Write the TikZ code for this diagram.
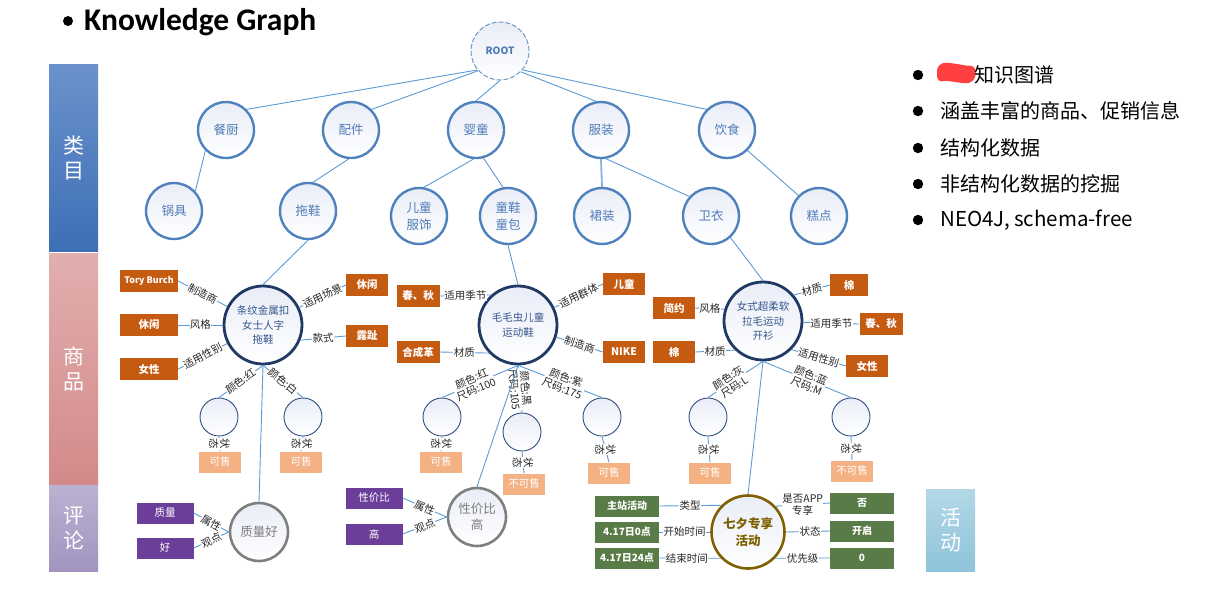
\documentclass[tikz,border=0pt]{standalone}
\usepackage{fontspec}
\setmainfont{Noto Sans CJK SC}
\newfontfamily\titlefont{Carlito}
\definecolor{edgec}{HTML}{5B9BD5}
\definecolor{catb}{HTML}{4F81BD}
\definecolor{catt}{HTML}{4F7CB8}
\definecolor{cattop}{HTML}{E9EDF7}
\definecolor{prodb}{HTML}{1F3864}
\definecolor{prodt}{HTML}{34558B}
\definecolor{skub}{HTML}{2F4F80}
\definecolor{attrc}{HTML}{C55A11}
\definecolor{statc}{HTML}{F4B183}
\definecolor{revc}{HTML}{6B3E99}
\definecolor{revb}{HTML}{7F7F7F}
\definecolor{actc}{HTML}{587B47}
\definecolor{actb}{HTML}{7F6000}
\definecolor{rootb}{HTML}{6F97C8}
\definecolor{bluetop}{HTML}{6B92CC}
\definecolor{bluebot}{HTML}{3D6FB6}
\definecolor{pinktop}{HTML}{E1AFAE}
\definecolor{pinkbot}{HTML}{D4898A}
\definecolor{purptop}{HTML}{BAB2D1}
\definecolor{purpbot}{HTML}{A194BF}
\definecolor{cyantop}{HTML}{B2D8E6}
\definecolor{cyanbot}{HTML}{8FC4DA}
\definecolor{redmark}{HTML}{FF4040}
\begin{document}
\begin{tikzpicture}[x=1pt,y=-1pt,
  edge/.style={draw=edgec, line width=0.9pt},
  cat/.style={circle, draw=catb, line width=2.4pt, top color=cattop, bottom color=white, minimum size=56pt, inner sep=0pt, align=center, text=catt, font=\fontsize{12.5}{16.5}\selectfont},
  prod/.style={circle, draw=prodb, line width=2.8pt, top color=cattop, bottom color=white, minimum size=78pt, inner sep=0pt, align=center, text=prodt, font=\fontsize{10.5}{14.5}\selectfont},
  sku/.style={circle, draw=skub, line width=0.9pt, top color=cattop, bottom color=white, minimum size=38pt, inner sep=0pt},
  attr/.style={rectangle, fill=attrc, text=white, font=\bfseries\fontsize{10.5}{12}\selectfont, minimum height=22pt, inner sep=0pt},
  stat/.style={rectangle, fill=statc, text=white, font=\fontsize{10.5}{12}\selectfont, minimum width=42pt, minimum height=21pt, inner sep=0pt},
  rbox/.style={rectangle, fill=revc, text=white, font=\fontsize{10.5}{12}\selectfont, minimum width=57pt, minimum height=21pt, inner sep=0pt},
  abox/.style={rectangle, fill=actc, text=white, font=\bfseries\fontsize{10}{12}\selectfont, minimum width=64pt, minimum height=21pt, inner sep=0pt},
  revcirc/.style={circle, draw=revb, line width=2.6pt, top color=cattop, bottom color=white, minimum size=58pt, inner sep=0pt, align=center, text=revb, font=\fontsize{12.5}{16}\selectfont},
  actcirc/.style={circle, draw=actb, line width=2.6pt, top color=cattop, bottom color=white, minimum size=73pt, inner sep=0pt, align=center, text=actb, font=\bfseries\fontsize{12.5}{16.5}\selectfont},
  lbl/.style={fill=white, inner sep=0.4pt, text=black!85, align=center, font=\fontsize{10.5}{11.5}\selectfont},
  band/.style={rectangle, text=white, align=center, inner sep=0pt, minimum width=49pt, font=\fontsize{21}{25}\selectfont}
]
\useasboundingbox (0,0) rectangle (1213,595);

% title
\fill (68,21) circle (5);
\node[anchor=base west, inner sep=0pt, font=\titlefont\bfseries\fontsize{31.5}{33}\selectfont] (title) at (84,30) {Knowledge Graph};

% bands
\node[band, top color=bluetop, bottom color=bluebot, minimum height=187pt] (bandA) at (73.5,157.5) {类\\目};
\node[band, top color=pinktop, bottom color=pinkbot, minimum height=232pt] (bandB) at (73.5,369) {商\\品};
\node[band, top color=purptop, bottom color=purpbot, minimum height=86pt] (bandC) at (73.5,528) {评\\论};
\node[band, top color=cyantop, bottom color=cyanbot, minimum height=82pt] (bandD) at (950.5,530) {活\\动};

% bullet list
\fill (918,75) circle (5.2);
\fill (918,111) circle (5.2);
\fill (918,148) circle (5.2);
\fill (918,184) circle (5.2);
\fill (918,220) circle (5.2);
\fill[redmark, rounded corners=7pt] (937,64) .. controls (950,62) and (965,66) .. (976,65) -- (975,82) .. controls (962,84) and (948,80) .. (937,83) -- cycle;
\node[anchor=west, inner sep=0pt, font=\fontsize{20}{24}\selectfont] (li1) at (974,75) {知识图谱};
\node[anchor=west, inner sep=0pt, font=\fontsize{20}{24}\selectfont] (li2) at (940,111) {涵盖丰富的商品、促销信息};
\node[anchor=west, inner sep=0pt, font=\fontsize{20}{24}\selectfont] (li3) at (940,148) {结构化数据};
\node[anchor=west, inner sep=0pt, font=\fontsize{20}{24}\selectfont] (li4) at (940,184) {非结构化数据的挖掘};
\node[anchor=west, inner sep=0pt, font=\fontsize{20.5}{24}\selectfont] (li5) at (940,220) {NEO4J, schema-free};

% root and categories
\node[circle, draw=rootb, dash pattern=on 5pt off 2pt, line width=1pt, top color=cattop, bottom color=white, minimum size=58pt, inner sep=0pt, text=catt, font=\bfseries\fontsize{10}{11}\selectfont] (root) at (500,51) {ROOT};
\node[cat] (cc) at (226,130) {餐厨};
\node[cat] (pj) at (351,130) {配件};
\node[cat] (yt) at (476,130) {婴童};
\node[cat] (fz) at (601,130) {服装};
\node[cat] (ys) at (727,130) {饮食};
\node[cat] (gj) at (174,211) {锅具};
\node[cat] (tx) at (308,211) {拖鞋};
\node[cat] (etfs) at (419,216) {儿童\\服饰};
\node[cat] (txtb) at (508,216) {童鞋\\童包};
\node[cat] (qz) at (602,216) {裙装};
\node[cat] (wy) at (711,216) {卫衣};
\node[cat] (gd) at (819,216) {糕点};

\draw[edge] (root.220) -- (cc.45);
\draw[edge] (root.222) -- (pj.45);
\draw[edge] (root.south) -- (yt.north);
\draw[edge] (root.-45) -- (fz.100);
\draw[edge] (root.-40) -- (ys.135);
\draw[edge] (cc.225) -- (gj.43);
\draw[edge] (pj.265) -- (tx.80);
\draw[edge] (yt.265) -- (etfs.80);
\draw[edge] (yt.285) -- (txtb.100);
\draw[edge, line width=1.8pt, draw=edgec!75] (fz.south) -- (qz.north);
\draw[edge] (fz.280) -- (wy.138);
\draw[edge] (ys.-45) -- (gd.135);

% products
\node[prod] (p1) at (263,325) {条纹金属扣\\女士人字\\拖鞋};
\node[prod] (p2) at (518,325) {毛毛虫儿童\\运动鞋};
\node[prod] (p3) at (763,321) {女式超柔软\\拉毛运动\\开衫};
\draw[edge] (tx.south) -- (p1.north);
\draw[edge] (txtb.south) -- (p2.north);
\draw[edge] (wy.-48) -- (p3.north);

% product 1 attributes
\node[attr, minimum width=58pt, font=\bfseries\fontsize{9}{11}\selectfont] (tb) at (149,281) {Tory Burch};
\node[attr, minimum width=58pt] (xx1) at (149,325) {休闲};
\node[attr, minimum width=58pt] (nx1) at (149,369) {女性};
\node[attr, minimum width=42pt] (xx2) at (367,285) {休闲};
\node[attr, minimum width=42pt] (lz) at (367,336) {露趾};
\draw[edge] (tb.east) -- node[lbl, sloped] {制造商} (p1);
\draw[edge] (xx1.east) -- node[lbl] {风格} (p1.west);
\draw[edge] (nx1.east) -- node[lbl, sloped] {适用性别} (p1);
\draw[edge] (p1) -- node[lbl, sloped] {适用场景} (xx2.west);
\draw[edge] (p1.-22) -- node[lbl, sloped] {款式} (lz.west);

% product 2 attributes
\node[attr, minimum width=43pt] (cq2) at (418,296) {春、秋};
\node[attr, minimum width=43pt] (hcg) at (418,352) {合成革};
\node[attr, minimum width=42pt] (et) at (624,284) {儿童};
\node[attr, minimum width=42pt] (nike) at (624,352) {NIKE};
\draw[edge] (cq2.east) -- node[lbl] {适用季节} (p2.132);
\draw[edge] (hcg.east) -- node[lbl] {材质} (p2.224);
\draw[edge] (p2) -- node[lbl, sloped] {适用群体} (et.west);
\draw[edge] (p2) -- node[lbl, sloped] {制造商} (nike.west);

% product 3 attributes
\node[attr, minimum width=42pt] (jy) at (674,308) {简约};
\node[attr, minimum width=42pt] (m1) at (674,352) {棉};
\node[attr, minimum width=38pt] (m2) at (849,285) {棉};
\node[attr, minimum width=43pt] (cq3) at (881,324) {春、秋};
\node[attr, minimum width=42pt] (nx3) at (867,366) {女性};
\draw[edge] (jy.east) -- node[lbl] {风格} (p3.163);
\draw[edge] (m1.east) -- node[lbl] {材质} (p3.226);
\draw[edge] (p3.40) -- node[lbl, sloped] {材质} (m2.west);
\draw[edge] (p3) -- node[lbl] {适用季节} (cq3.west);
\draw[edge] (p3.-45) -- node[lbl, sloped] {适用性别} (nx3.west);

% SKUs
\node[sku] (s11) at (219,417) {};
\node[sku] (s12) at (303,417) {};
\node[sku] (s21) at (442,417) {};
\node[sku] (s22) at (522,432) {};
\node[sku] (s23) at (602,417) {};
\node[sku] (s31) at (708,417) {};
\node[sku] (s32) at (851,417) {};
\draw[edge] (p1.south) -- node[lbl, sloped] {颜色:红} (s11.north);
\draw[edge] (p1.south) -- node[lbl, sloped] {颜色:白} (s12.north);
\draw[edge] (p2.south) -- node[lbl, sloped, pos=0.5] {颜色:黑\\尺码:105} (s22.north);
\draw[edge] (p2.south) -- node[lbl, sloped, pos=0.58] {颜色:红\\尺码:100} (s21.north);
\draw[edge] (p2.south) -- node[lbl, sloped, pos=0.55] {颜色:紫\\尺码:175} (s23.north);
\draw[edge] (p3.south) -- node[lbl, sloped, pos=0.58] {颜色:灰\\尺码:L} (s31.north);
\draw[edge] (p3.south) -- node[lbl, sloped, pos=0.52] {颜色:蓝\\尺码:M} (s32.north);

% status
\node[stat] (t11) at (220,462) {可售};
\node[stat] (t12) at (301,462) {可售};
\node[stat] (t21) at (441,462) {可售};
\node[stat] (t22) at (524,484) {不可售};
\node[stat] (t23) at (609,473) {可售};
\node[stat] (t31) at (710,473) {可售};
\node[stat] (t32) at (852,471) {不可售};
\foreach \s/\t in {s11/t11, s12/t12, s21/t21, s22/t22, s23/t23, s31/t31, s32/t32}
  \draw[edge] (\s.south) -- node[lbl, rotate=-90, font=\fontsize{10.5}{11}\selectfont] {状\\态} (\t.north);

% reviews
\node[revcirc] (zlg) at (259,532) {质量好};
\node[rbox] (zl) at (165,513) {质量};
\node[rbox] (hao) at (165,548) {好};
\node[revcirc] (xjbg) at (477,517) {性价比\\高};
\node[rbox] (xjb) at (374,498) {性价比};
\node[rbox] (gao) at (374,534) {高};
\draw[edge] (p1.south) -- (zlg.north);
\draw[edge] (p2.south) -- (xjbg.north);
\draw[edge] (zl.east) -- node[lbl, sloped] {属性} (zlg.west);
\draw[edge] (hao.east) -- node[lbl, sloped] {观点} (zlg.west);
\draw[edge] (xjb.east) -- node[lbl, sloped] {属性} (xjbg.west);
\draw[edge] (gao.east) -- node[lbl, sloped] {观点} (xjbg.west);

% activity
\node[actcirc] (act) at (748,532) {七夕专享\\活动};
\node[abox] (zzhd) at (627,506) {主站活动};
\node[abox] (kssj) at (627,532) {4.17日0点};
\node[abox] (jssj) at (627,558) {4.17日24点};
\node[abox] (fou) at (862,503) {否};
\node[abox] (kq) at (862,531) {开启};
\node[abox] (yxj) at (862,558) {0};
\draw[edge] (p3.south) -- (act.north);
\draw[edge] (zzhd.east) -- node[lbl] {类型} (act.135);
\draw[edge] (kssj.east) -- node[lbl] {开始时间} (act.west);
\draw[edge] (jssj.east) -- node[lbl, pos=0.45] {结束时间} (act.224);
\draw[edge] (act.43) -- node[lbl] {是否APP\\专享} (fou.west);
\draw[edge] (act.east) -- node[lbl, pos=0.55] {状态} (kq.west);
\draw[edge] (act.-44) -- node[lbl] {优先级} (yxj.west);
\end{tikzpicture}
\end{document}
